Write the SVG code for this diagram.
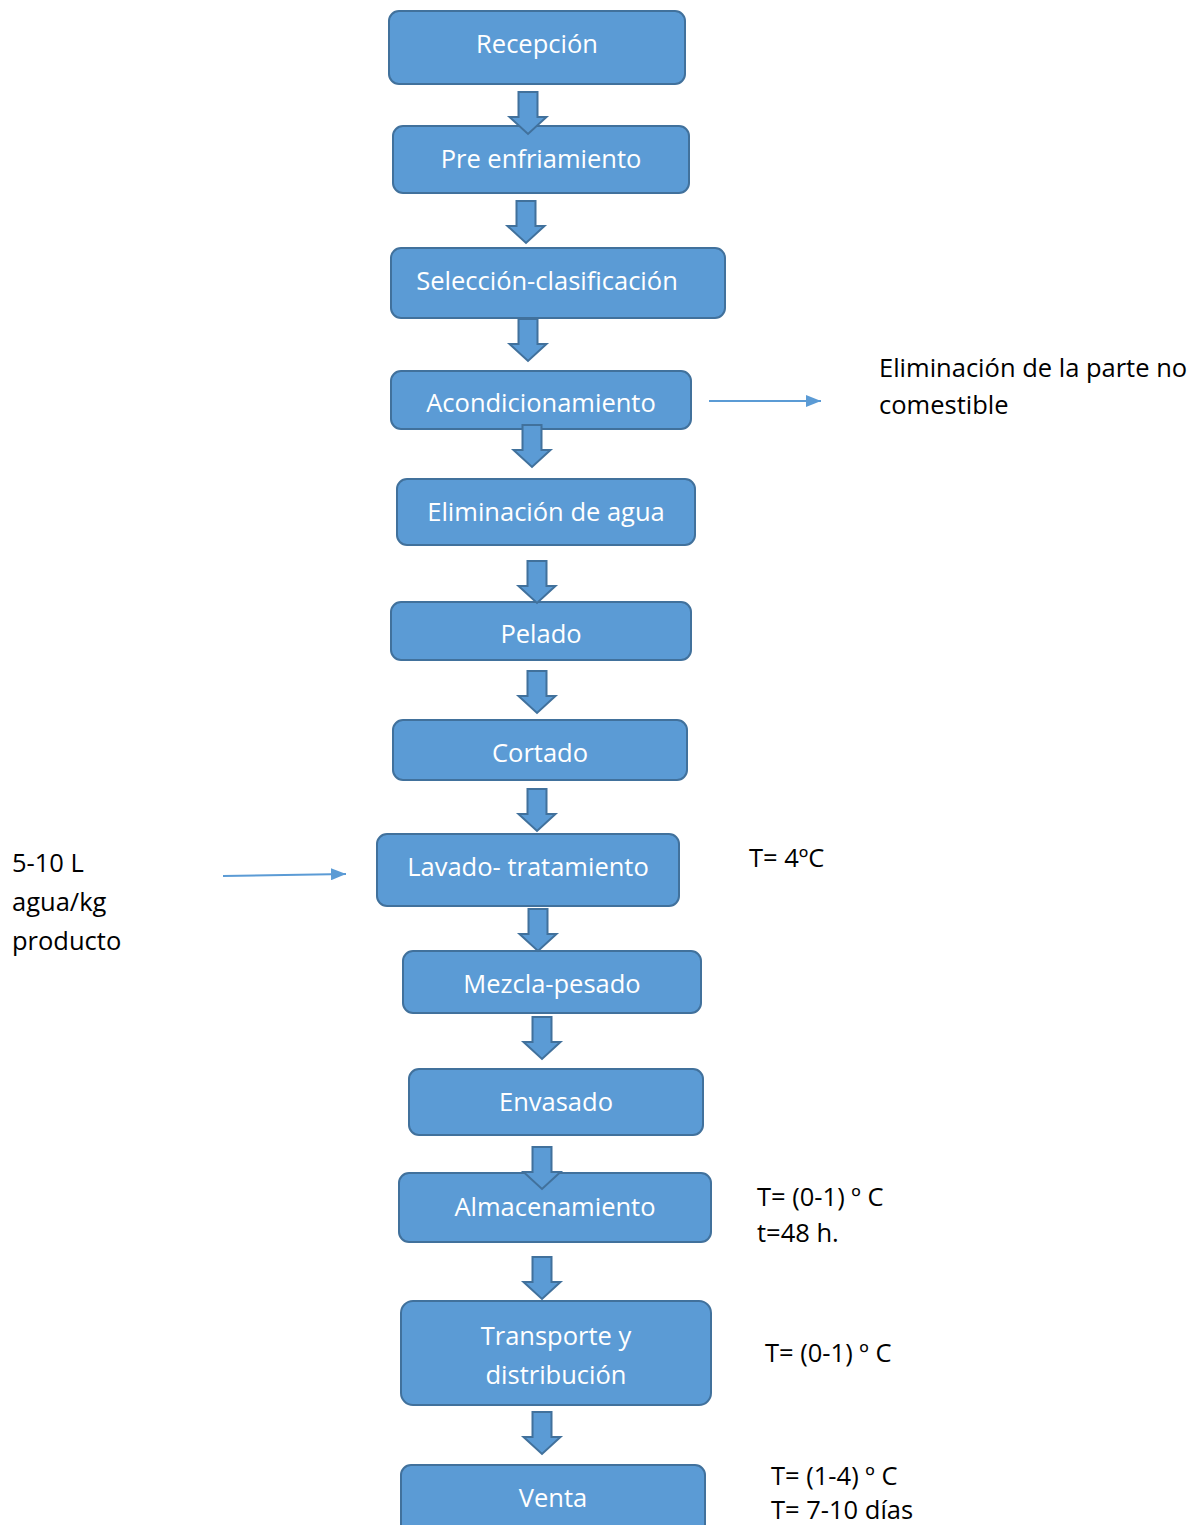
<svg xmlns="http://www.w3.org/2000/svg" width="1203" height="1525" viewBox="0 0 1203 1525">
<style>
.box{fill:#5B9BD5;stroke:#41719C;stroke-width:2}
.bt{fill:#fff;font-family:"Open Sans",Lato,sans-serif;font-size:25.5px;text-anchor:middle}
.lt{fill:#000;font-family:"Open Sans",Lato,sans-serif;font-size:25.5px}
.blk{fill:#5B9BD5;stroke:#41719C;stroke-width:2;stroke-linejoin:miter}
.thin{stroke:#5B9BD5;stroke-width:2;fill:none}
</style>
<defs>
<marker id="ah" viewBox="0 0 15 12" refX="15" refY="6" markerWidth="15" markerHeight="12" markerUnits="userSpaceOnUse" orient="auto">
<path d="M0,0 L15,6 L0,12 z" fill="#5B9BD5"/>
</marker>
<path id="barrow" d="M-9.5,0 H9.5 V25 H18.5 L0,42 L-18.5,25 H-9.5 Z"/>
</defs>
<rect width="1203" height="1525" fill="#fff"/>

<g id="n1"><rect class="box" x="389" y="11" width="296" height="73" rx="10"/><text class="bt" x="537" y="53">Recepción</text></g>
<g id="n2"><rect class="box" x="393" y="126" width="296" height="67" rx="10"/><text class="bt" x="541" y="168">Pre enfriamiento</text></g>
<g id="n3"><rect class="box" x="391" y="248" width="334" height="70" rx="10"/><text class="bt" x="547" y="290">Selección-clasificación</text></g>
<g id="n4"><rect class="box" x="391" y="371" width="300" height="58" rx="10"/><text class="bt" x="541" y="412">Acondicionamiento</text></g>
<g id="n5"><rect class="box" x="397" y="479" width="298" height="66" rx="10"/><text class="bt" x="546" y="521">Eliminación de agua</text></g>
<g id="n6"><rect class="box" x="391" y="602" width="300" height="58" rx="10"/><text class="bt" x="541" y="643">Pelado</text></g>
<g id="n7"><rect class="box" x="393" y="720" width="294" height="60" rx="10"/><text class="bt" x="540" y="762">Cortado</text></g>
<g id="n8"><rect class="box" x="377" y="834" width="302" height="72" rx="10"/><text class="bt" x="528" y="876">Lavado- tratamiento</text></g>
<g id="n9"><rect class="box" x="403" y="951" width="298" height="62" rx="10"/><text class="bt" x="552" y="993">Mezcla-pesado</text></g>
<g id="n10"><rect class="box" x="409" y="1069" width="294" height="66" rx="10"/><text class="bt" x="556" y="1111">Envasado</text></g>
<g id="n11"><rect class="box" x="399" y="1173" width="312" height="69" rx="10"/><text class="bt" x="555" y="1216">Almacenamiento</text></g>
<g id="n12"><rect class="box" x="401" y="1301" width="310" height="104" rx="12"/><text class="bt" x="556" y="1345">Transporte y</text><text class="bt" x="556" y="1384">distribución</text></g>
<g id="n13"><rect class="box" x="401" y="1465" width="304" height="70" rx="10"/><text class="bt" x="553" y="1507">Venta</text></g>

<g id="connectors">
<use href="#barrow" class="blk" x="528" y="92"/>
<use href="#barrow" class="blk" x="526" y="201"/>
<use href="#barrow" class="blk" x="528" y="319"/>
<use href="#barrow" class="blk" x="532" y="425"/>
<use href="#barrow" class="blk" x="537" y="561"/>
<use href="#barrow" class="blk" x="537" y="671"/>
<use href="#barrow" class="blk" x="537" y="789"/>
<use href="#barrow" class="blk" x="538" y="909"/>
<use href="#barrow" class="blk" x="542" y="1017"/>
<use href="#barrow" class="blk" x="542" y="1147"/>
<use href="#barrow" class="blk" x="542" y="1257"/>
<use href="#barrow" class="blk" x="542" y="1412"/>
<line class="thin" x1="709" y1="401" x2="821" y2="401" marker-end="url(#ah)"/>
<line class="thin" x1="223" y1="876" x2="346" y2="874" marker-end="url(#ah)"/>
</g>

<g id="labels">
<text class="lt" x="879" y="377">Eliminación de la parte no</text>
<text class="lt" x="879" y="414">comestible</text>
<text class="lt" x="12" y="872">5-10 L</text>
<text class="lt" x="12" y="911">agua/kg</text>
<text class="lt" x="12" y="950">producto</text>
<text class="lt" x="749" y="867">T= 4ºC</text>
<text class="lt" x="757" y="1206">T= (0-1) º C</text>
<text class="lt" x="757" y="1242">t=48 h.</text>
<text class="lt" x="765" y="1362">T= (0-1) º C</text>
<text class="lt" x="771" y="1485">T= (1-4) º C</text>
<text class="lt" x="771" y="1519">T= 7-10 días</text>
</g>
</svg>
